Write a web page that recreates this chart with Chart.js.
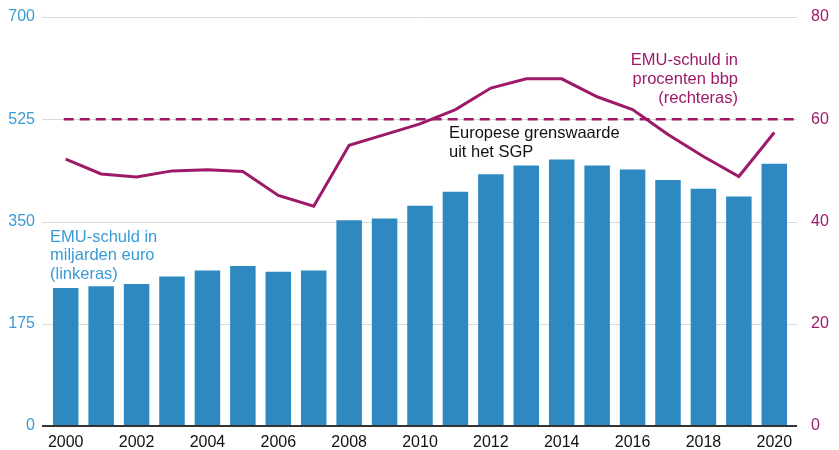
<!DOCTYPE html>
<html>
<head>
<meta charset="utf-8">
<script src="https://cdn.jsdelivr.net/npm/chart.js@4/dist/chart.umd.min.js"></script>
<style>
html,body{margin:0;padding:0;background:#fff;}
#wrap{width:839px;height:450px;position:relative;}
</style>
</head>
<body>
<div id="wrap"><canvas id="c" width="839" height="450"></canvas></div>
<script>
const years = ['2000','2001','2002','2003','2004','2005','2006','2007','2008','2009','2010','2011','2012','2013','2014','2015','2016','2017','2018','2019','2020'];
const debtBillions = [236, 239, 243, 256, 266, 274, 264, 266, 352, 355, 377, 401, 431, 446, 456, 446, 439, 421, 406, 393, 449];
const debtPercentGdp = [52.2, 49.3, 48.7, 49.9, 50.1, 49.8, 45.1, 43.0, 54.9, 57.0, 59.1, 61.9, 66.1, 67.9, 67.9, 64.4, 61.9, 57.0, 52.7, 48.8, 57.4];
const sgpLimit = 60;
const leftTicks = [0, 175, 350, 525, 700];
const rightTicks = [0, 20, 40, 60, 80];

const BLUE = '#2d89bf';
const BLUE_TXT = '#3a9bd5';
const MAG = '#9e1a69';
const FONT = '"Liberation Sans", Arial, sans-serif';

const noPad = s => { s.paddingTop = 0; s.paddingBottom = 0; };

const decor = {
  id: 'decor',
  beforeDatasetsDraw(chart) {
    const ctx = chart.ctx, ca = chart.chartArea, yl = chart.scales.yl;
    ctx.save();
    leftTicks.forEach(v => {
      if (v === 0) return;
      const y = Math.round(yl.getPixelForValue(v)) + 0.5;
      ctx.strokeStyle = '#d9d9d9';
      ctx.lineWidth = 1;
      ctx.beginPath(); ctx.moveTo(ca.left - 6, y); ctx.lineTo(ca.right + 5, y); ctx.stroke();
    });
    ctx.restore();
  },
  afterDatasetsDraw(chart) {
    const ctx = chart.ctx, ca = chart.chartArea, yl = chart.scales.yl, yr = chart.scales.yr, x = chart.scales.x;
    ctx.save();
    const y0 = yl.getPixelForValue(0);
    ctx.strokeStyle = '#333';
    ctx.lineWidth = 2;
    ctx.beginPath(); ctx.moveTo(ca.left - 6, y0); ctx.lineTo(ca.right + 5, y0); ctx.stroke();
    const yl60 = yr.getPixelForValue(sgpLimit);
    ctx.strokeStyle = MAG;
    ctx.lineWidth = 2.5;
    ctx.setLineDash([10, 6]);
    ctx.beginPath(); ctx.moveTo(x.getPixelForValue(0) - 2, yl60); ctx.lineTo(ca.right + 5, yl60); ctx.stroke();
    ctx.setLineDash([]);
    ctx.font = '16.5px ' + FONT;
    ctx.textBaseline = 'middle';
    ctx.fillStyle = BLUE_TXT;
    ctx.textAlign = 'left';
    ['EMU-schuld in', 'miljarden euro', '(linkeras)'].forEach((t, i) => ctx.fillText(t, 50, 237 + i * 18.7));
    ctx.fillStyle = MAG;
    ctx.textAlign = 'right';
    ['EMU-schuld in', 'procenten bbp', '(rechteras)'].forEach((t, i) => ctx.fillText(t, 738, 60 + i * 19));
    ctx.fillStyle = '#111';
    ctx.textAlign = 'left';
    ['Europese grenswaarde', 'uit het SGP'].forEach((t, i) => ctx.fillText(t, 449, 133 + i * 19));
    ctx.restore();
  }
};

new Chart(document.getElementById('c'), {
  data: {
    labels: years,
    datasets: [
      {
        type: 'line', data: debtPercentGdp, yAxisID: 'yr',
        borderColor: MAG, borderWidth: 3, pointRadius: 0, tension: 0, order: 0,
        borderJoinStyle: 'miter'
      },
      {
        type: 'bar', data: debtBillions, yAxisID: 'yl',
        backgroundColor: BLUE, borderWidth: 0,
        categoryPercentage: 1, barPercentage: 0.72, order: 1
      }
    ]
  },
  options: {
    responsive: false,
    animation: false,
    devicePixelRatio: 1,
    layout: { padding: { top: 17, left: 0, right: 0, bottom: 0 } },
    plugins: { legend: { display: false }, tooltip: { enabled: false } },
    scales: {
      x: {
        offset: true,
        grid: { display: false, drawTicks: false },
        border: { display: false },
        ticks: {
          autoSkip: false, maxRotation: 0, padding: 7,
          color: '#111', font: { family: FONT, size: 16 },
          callback: (v, i) => (i % 2 === 0 ? years[i] : '')
        },
        afterFit: s => { s.height = 24; s.paddingLeft = 0; s.paddingRight = 0; }
      },
      yl: {
        position: 'left', min: 0, max: 700,
        grid: { display: false, drawTicks: false },
        border: { display: false },
        afterBuildTicks: s => { s.ticks = leftTicks.map(v => ({ value: v })); },
        ticks: { color: BLUE_TXT, padding: 13, font: { family: FONT, size: 16 } },
        afterFit: s => { s.width = 48; noPad(s); }
      },
      yr: {
        position: 'right', min: 0, max: 80,
        grid: { display: false, drawTicks: false },
        border: { display: false },
        afterBuildTicks: s => { s.ticks = rightTicks.map(v => ({ value: v })); },
        ticks: { color: MAG, padding: 19, font: { family: FONT, size: 16 } },
        afterFit: s => { s.width = 47; noPad(s); }
      }
    }
  },
  plugins: [decor]
});
</script>
</body>
</html>
